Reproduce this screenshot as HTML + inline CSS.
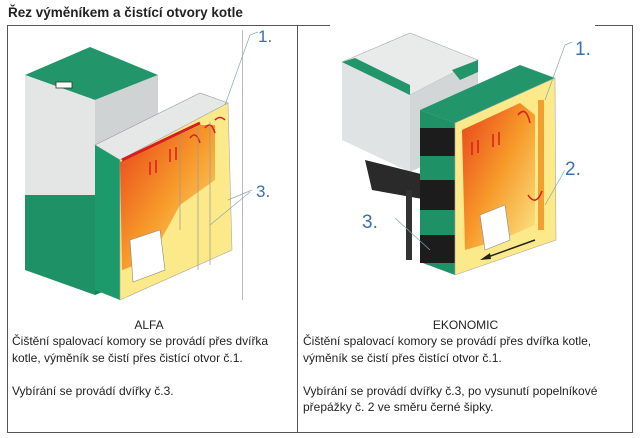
<!DOCTYPE html>
<html><head><meta charset="utf-8"><style>
body{margin:0;background:#fff;width:640px;height:438px;overflow:hidden;font-family:"Liberation Sans",sans-serif;}
.t{position:absolute;font-size:12px;color:#222;line-height:16.5px;white-space:nowrap}
</style></head><body>
<div class="t" style="left:8px;top:5px;font-weight:bold;font-size:13.5px;">Řez výměníkem a čistící otvory kotle</div>
<svg width="640" height="438" style="position:absolute;left:0;top:0">
<defs>
<linearGradient id="fire" x1="0" y1="0" x2="1" y2="1">
<stop offset="0" stop-color="#e8401c"/><stop offset="0.5" stop-color="#f79a2a"/><stop offset="1" stop-color="#fbe98a"/></linearGradient>
</defs>
<g fill="none" stroke="#555" stroke-width="1">
<line x1="7" y1="25.5" x2="330" y2="25.5"/><line x1="595" y1="25.5" x2="633" y2="25.5"/>
<line x1="7.5" y1="25" x2="7.5" y2="433"/><line x1="632.5" y1="25" x2="632.5" y2="433"/>
<line x1="297.5" y1="25" x2="297.5" y2="433"/><line x1="7" y1="432.5" x2="633" y2="432.5"/>
</g>
<!-- left boiler tower -->
<polygon points="25,75 90,47 158,75 95,100" fill="#23956b"/>
<polygon points="25,75 95,100 95,195 25,195" fill="#e4e6e6"/>
<polygon points="95,100 158,75 158,165 95,195" fill="#cfd3d3"/>
<polygon points="25,195 95,195 95,295 25,270" fill="#1f9166"/>
<polygon points="95,195 158,165 158,270 95,295" fill="#178259"/>
<rect x="56" y="82" width="16" height="6" fill="#fff" stroke="#333" stroke-width="0.8"/>
<!-- left cutaway -->
<polygon points="95,145 200,93 228,103 120,160" fill="#e6e8e8" stroke="#999" stroke-width="0.6"/>
<polygon points="95,145 120,160 120,300 95,290" fill="#1d9a6b"/>
<polygon points="120,160 228,103 232,250 120,300" fill="#fbe98a" stroke="#aaa" stroke-width="0.6"/>
<polygon points="120,162 200,125 215,125 215,180 180,205 150,260 122,270" fill="url(#fire)"/>
<line x1="122" y1="160" x2="200" y2="123" stroke="#d71e1e" stroke-width="3"/>
<g stroke="#d71e1e" stroke-width="1.5" fill="none">
<line x1="150" y1="175" x2="150" y2="162"/><line x1="156" y1="173" x2="156" y2="160"/>
<line x1="170" y1="162" x2="170" y2="149"/><line x1="176" y1="160" x2="176" y2="147"/>
<path d="M190 138 q6 -8 10 5"/><path d="M205 128 q6 -8 10 5"/><path d="M215 120 q5 -5 10 0"/>
</g>
<g stroke="#999" stroke-width="0.7"><line x1="180" y1="135" x2="180" y2="230"/><line x1="198" y1="128" x2="198" y2="270"/><line x1="210" y1="122" x2="210" y2="265"/></g>
<polygon points="130,240 160,230 165,270 133,282" fill="#fff" stroke="#888" stroke-width="0.6"/>
<line x1="242.5" y1="30" x2="242.5" y2="300" stroke="#bbb"/>
<g stroke="#8aa" stroke-width="0.7" fill="none"><path d="M225 105 L250 35 L258 32"/><path d="M210 225 L250 192"/><path d="M228 200 L252 190"/></g>
<text x="258" y="42" font-family="Liberation Sans" font-size="17" fill="#3a6fb0">1.</text>
<text x="256" y="197" font-family="Liberation Sans" font-size="17" fill="#3a6fb0">3.</text>
<!-- right hopper -->
<polygon points="342,62 410,33 478,60 410,95" fill="#e9ebeb" stroke="#aaa" stroke-width="0.6"/>
<polygon points="342,62 410,95 410,172 342,140" fill="#e0e3e3"/>
<polygon points="410,95 478,60 478,140 410,172" fill="#d2d6d6"/>
<polygon points="342,62 355,58 410,85 410,95" fill="#23956b"/>
<polygon points="452,70 478,60 478,72 460,80" fill="#23956b"/>
<polygon points="365,160 425,175 428,200 372,190" fill="#2a2a2a"/>
<rect x="406" y="190" width="6" height="70" fill="#333"/>
<!-- right boiler -->
<polygon points="420,110 520,65 555,78 455,123" fill="#23956b"/>
<polygon points="420,110 455,123 455,275 420,262" fill="#1f9166"/>
<rect x="420" y="128" width="35" height="28" fill="#1c1c1c"/><rect x="420" y="180" width="35" height="30" fill="#1c1c1c"/><rect x="420" y="235" width="35" height="28" fill="#1c1c1c"/>
<polygon points="455,123 555,78 556,240 455,275" fill="#fbe98a" stroke="#aaa" stroke-width="0.6"/>
<polygon points="462,130 520,103 535,115 535,225 500,240 465,250" fill="url(#fire)"/>
<rect x="538" y="100" width="6" height="130" fill="#f0a030"/>
<g stroke="#d71e1e" stroke-width="1.5" fill="none"><line x1="472" y1="155" x2="472" y2="142"/><line x1="478" y1="153" x2="478" y2="140"/><line x1="493" y1="147" x2="493" y2="134"/><line x1="499" y1="145" x2="499" y2="132"/><path d="M518 115 q8 -10 12 8"/><path d="M528 195 q8 12 14 -4"/></g>
<polygon points="480,215 505,205 510,240 485,250" fill="#fff" stroke="#888" stroke-width="0.6"/>
<path d="M535 240 L485 258" stroke="#222" stroke-width="1.5"/><polygon points="480,260 490,253 491,259" fill="#222"/>
<g stroke="#8aa" stroke-width="0.7" fill="none"><path d="M545 100 L565 45 L572 42"/><path d="M545 205 L565 170"/><path d="M395 218 L430 250"/></g>
<text x="575" y="55" font-family="Liberation Sans" font-size="19" fill="#3a6fb0">1.</text>
<text x="565" y="175" font-family="Liberation Sans" font-size="19" fill="#3a6fb0">2.</text>
<text x="362" y="228" font-family="Liberation Sans" font-size="19" fill="#3a6fb0">3.</text>
</svg>
<div class="t" style="left:0;width:298px;text-align:center;top:317px;">ALFA</div>
<div class="t" style="left:12px;top:333px;">Čištění spalovací komory se provádí přes dvířka<br>kotle, výměník se čistí přes čistící otvor č.1.<br><br>Vybírání se provádí dvířky č.3.</div>
<div class="t" style="left:298px;width:335px;text-align:center;top:317px;">EKONOMIC</div>
<div class="t" style="left:303px;top:333px;">Čištění spalovací komory se provádí přes dvířka kotle,<br>výměník se čistí přes čistící otvor č.1.<br><br>Vybírání se provádí dvířky č.3, po vysunutí popelníkové<br>přepážky č. 2 ve směru černé šipky.</div>
</body></html>
